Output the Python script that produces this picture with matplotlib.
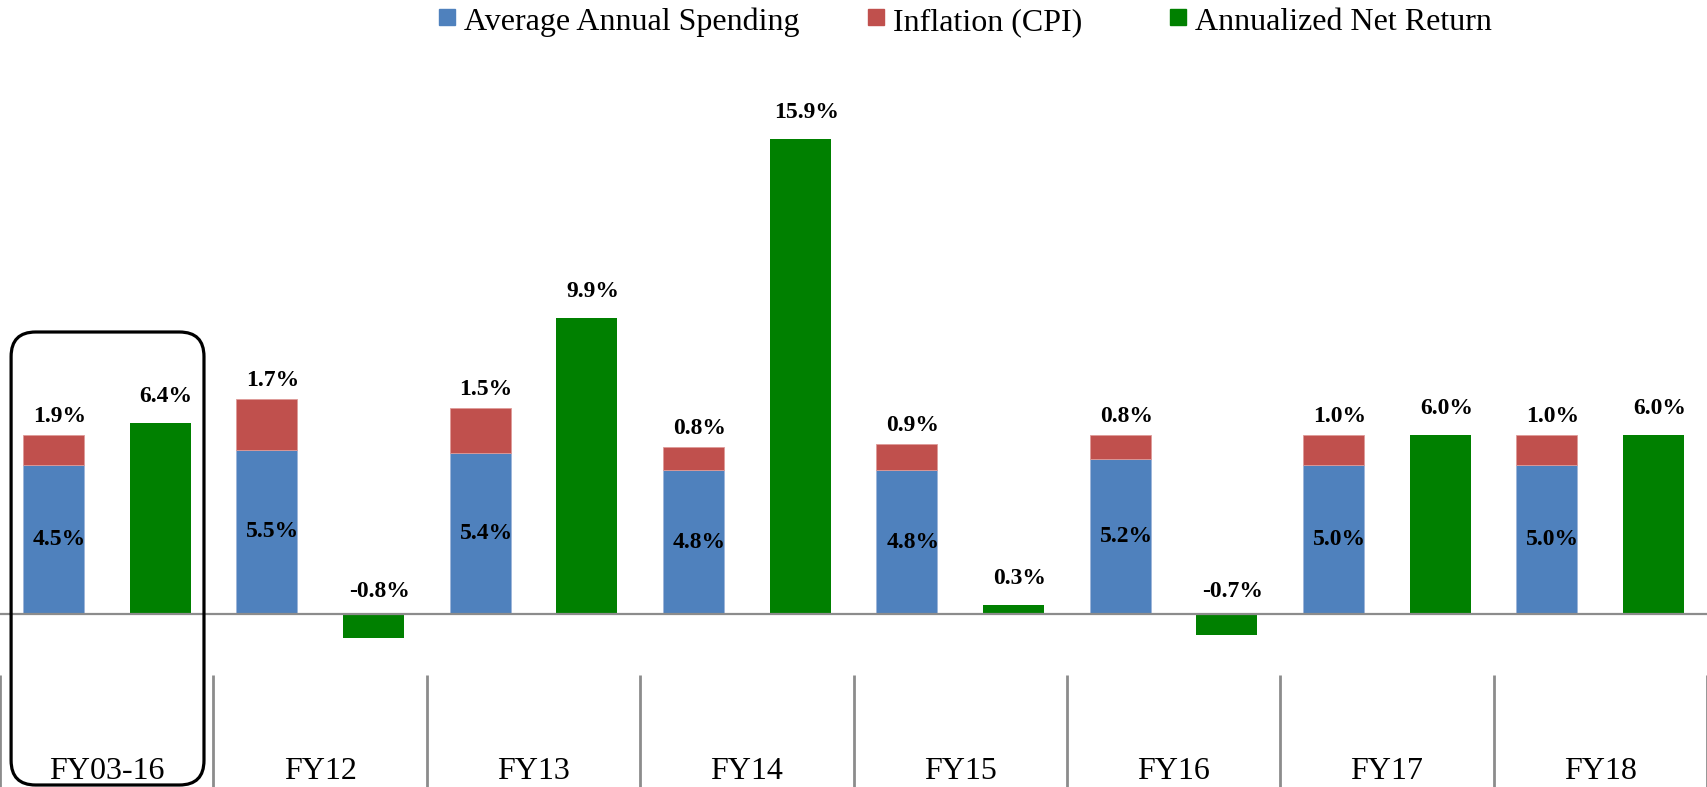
import numpy as np
import matplotlib

matplotlib.use("Agg")
import matplotlib.pyplot as plt
from matplotlib.patches import FancyBboxPatch, Rectangle

categories = ["FY03-16", "FY12", "FY13", "FY14", "FY15", "FY16", "FY17", "FY18"]
# bar heights as drawn (the FY03-16 stack is drawn at 5.0 / 1.0 in the source)
spending = [5.0, 5.5, 5.4, 4.8, 4.8, 5.2, 5.0, 5.0]
inflation = [1.0, 1.7, 1.5, 0.8, 0.9, 0.8, 1.0, 1.0]
net_return = [6.4, -0.8, 9.9, 15.9, 0.3, -0.7, 6.0, 6.0]
# labels as printed on the chart
spending_labels = ["4.5%", "5.5%", "5.4%", "4.8%", "4.8%", "5.2%", "5.0%", "5.0%"]
inflation_labels = ["1.9%", "1.7%", "1.5%", "0.8%", "0.9%", "0.8%", "1.0%", "1.0%"]
return_labels = ["6.4%", "-0.8%", "9.9%", "15.9%", "0.3%", "-0.7%", "6.0%", "6.0%"]
legend_names = ["Average Annual Spending", "Inflation (CPI)", "Annualized Net Return"]

BLUE = "#4F81BD"
RED = "#C0504D"
GREEN = "#008000"
GRAY = "#8C8C8C"
SERIF = ["Liberation Serif", "DejaVu Serif"]

W, H = 1707, 787
ZERO_PX = 614
PX_PER_PCT = 29.9

fig = plt.figure(figsize=(W / 100, H / 100), dpi=100)
ax = fig.add_axes([0, 0, 1, 1])
ax.set_xlim(-0.5, len(categories) - 0.5)
ax.set_ylim(-(H - ZERO_PX) / PX_PER_PCT, ZERO_PX / PX_PER_PCT)
ax.axis("off")

x = np.arange(len(categories))
bw = 0.286
spend = np.array(spending)
infl = np.array(inflation)
ret = np.array(net_return)

ax.bar(x - 0.25, spend, bw, color=BLUE, edgecolor="#9DB5D9", linewidth=0.6, zorder=2)
ax.bar(x - 0.25, infl, bw, bottom=spend, color=RED, edgecolor="#DE9A98", linewidth=0.6, zorder=2)
ax.bar(x + 0.25, ret, bw, color=GREEN, zorder=2)

ax.axhline(0, color=GRAY, linewidth=1.6, zorder=3)

# labels sit a few px right of the bar centre in the source
dx = 0.028
lab_kw = dict(ha="center", va="center", fontsize=17, fontweight="bold",
              family=SERIF, color="black", zorder=4)
for i in range(len(categories)):
    ax.text(x[i] - 0.25 + dx, spend[i] / 2, spending_labels[i], **lab_kw)
    ax.text(x[i] - 0.25 + dx, spend[i] + infl[i] + 0.62, inflation_labels[i], **lab_kw)
    y_lab = ret[i] + 0.88 if ret[i] > 0 else 0.75
    ax.text(x[i] + 0.25 + dx, y_lab, return_labels[i], **lab_kw)

# category "table" below the plot
y_bot = ax.get_ylim()[0]
ax.vlines(np.arange(len(categories) + 1) - 0.5, y_bot, -(675 - ZERO_PX) / PX_PER_PCT,
          color=GRAY, linewidth=2)
for i, c in enumerate(categories):
    ax.text(x[i], -(779 - ZERO_PX) / PX_PER_PCT, c, ha="center", va="baseline",
            fontsize=23, family=SERIF)

# rounded highlight around the first group
aspect = (1 / PX_PER_PCT) / (len(categories) / W)
box = FancyBboxPatch((-0.448, -(785 - ZERO_PX) / PX_PER_PCT), 0.904,
                     (785 - 332) / PX_PER_PCT,
                     boxstyle="round,pad=0,rounding_size=0.115",
                     mutation_aspect=aspect, fill=False, edgecolor="black",
                     linewidth=2.3, zorder=5)
ax.add_patch(box)

# legend along the top
leg_items = [(439, BLUE, legend_names[0]), (868, RED, legend_names[1]),
             (1170, GREEN, legend_names[2])]
for px, col, name in leg_items:
    fig.patches.append(Rectangle((px / W, 1 - 25 / H), 16 / W, 16 / H,
                                 transform=fig.transFigure, color=col))
    fig.text((px + 25) / W, 1 - 30 / H, name, ha="left", va="baseline",
             fontsize=23, family=SERIF)

fig.savefig("out.png", dpi=100, facecolor="white")
